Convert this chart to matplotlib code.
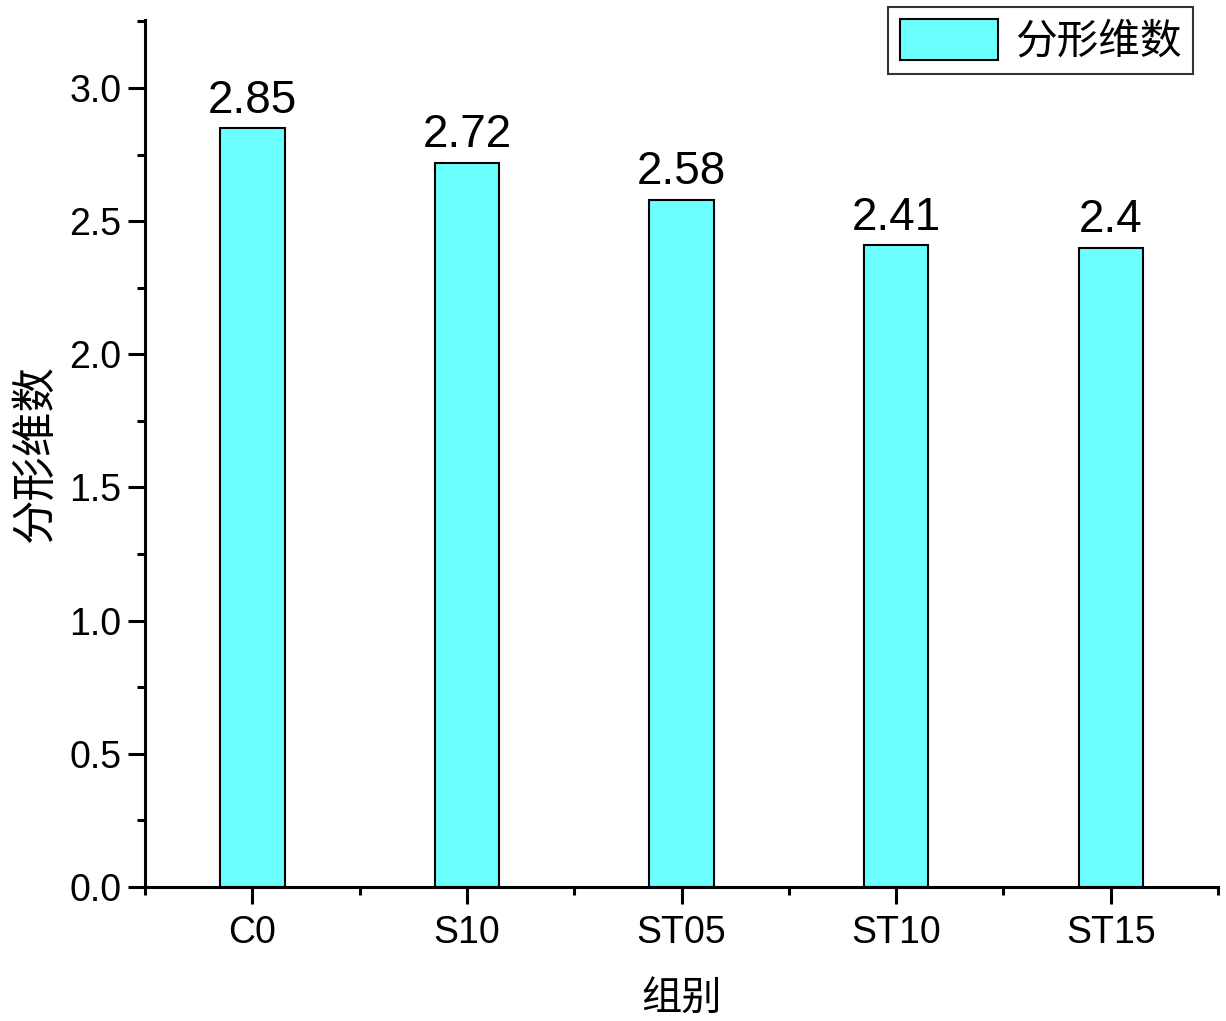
import matplotlib
matplotlib.use("Agg")
import matplotlib.pyplot as plt
from matplotlib.ticker import MultipleLocator, FixedLocator

plt.rcParams['font.family'] = ['Liberation Sans', 'Noto Sans CJK SC', 'DejaVu Sans']

categories = ["C0", "S10", "ST05", "ST10", "ST15"]
values = [2.85, 2.72, 2.58, 2.41, 2.4]
value_labels = ["2.85", "2.72", "2.58", "2.41", "2.4"]
series_name = "分形维数"
xlabel = "组别"
ylabel = "分形维数"

fig = plt.figure(figsize=(12.26, 10.21), dpi=100)
ax = fig.add_axes([0.1183, 0.1312, 0.8752, 0.8492])

x = list(range(len(categories)))
bars = ax.bar(x, values, width=0.3, color="#6BFFFF", edgecolor="black",
              linewidth=1.5, label=series_name, zorder=2)

for xi, v, lab in zip(x, values, value_labels):
    ax.text(xi, v + 0.02, lab, ha="center", va="bottom", fontsize=33,
            family="Liberation Sans")

ax.set_xlim(-0.5, 4.5)
ax.set_ylim(0, 3.255)
ax.set_xticks(x)
ax.set_xticklabels(categories)
ax.xaxis.set_minor_locator(FixedLocator([i + 0.5 for i in range(-1, 5)]))
ax.yaxis.set_major_locator(MultipleLocator(0.5))
ax.yaxis.set_minor_locator(MultipleLocator(0.25))
ax.set_yticklabels([f"{t:.1f}" for t in ax.get_yticks()])

for s in ["top", "right"]:
    ax.spines[s].set_visible(False)
for s in ["left", "bottom"]:
    ax.spines[s].set_linewidth(2.2)

ax.tick_params(axis="both", which="major", direction="out", length=12,
               width=2.2, labelsize=27)
ax.tick_params(axis="both", which="minor", direction="out", length=6,
               width=2.2)
ax.tick_params(axis="x", which="major", pad=8)
ax.tick_params(axis="y", which="major", pad=5)

ax.set_xlabel(xlabel, fontsize=29, family=["Noto Sans CJK SC"], labelpad=20)
ax.set_ylabel(ylabel, fontsize=32, family=["Noto Sans CJK SC"], labelpad=8)

leg = ax.legend(loc="upper right", bbox_to_anchor=(0.973, 0.993),
                bbox_transform=fig.transFigure,
                prop={"family": "Noto Sans CJK SC", "size": 30},
                frameon=True, fancybox=False, edgecolor="black",
                handlelength=2.35, handleheight=1.15, borderpad=0.28,
                handletextpad=0.4, borderaxespad=0)
leg.get_frame().set_linewidth(1.5)

fig.savefig("out.png", dpi=100)
